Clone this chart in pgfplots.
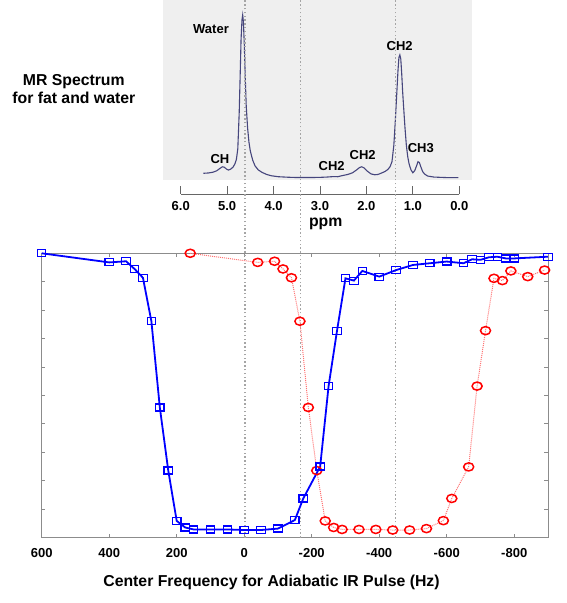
\documentclass[border=0pt]{standalone}
\usepackage{fontspec}
\setmainfont{Liberation Sans}
\usepackage{pgfplots}
\pgfplotsset{compat=1.18}
\definecolor{specline}{RGB}{70,70,125}
\definecolor{boxgray}{RGB}{239,239,239}
\definecolor{dotgray}{RGB}{165,165,165}
\newcommand\ticfont{\fontsize{13}{15}\selectfont\bfseries}
\newcommand\labfont{\fontsize{15.8}{19}\selectfont\bfseries}
\newcommand\peakfont{\fontsize{13}{15}\selectfont\bfseries}
\begin{document}
\begin{tikzpicture}
\useasboundingbox (0,0) rectangle (567pt,603pt);
% ---------------- MR spectrum ----------------
\begin{axis}[
  at={(180.7pt,409pt)}, anchor=south west, scale only axis,
  width=278.6pt, height=194pt,
  x dir=reverse, xmin=0, xmax=6, ymin=-0.098, ymax=1.092,
  axis x line*=bottom, axis y line=none, ytick=\empty,
  xtick={0,1,2,3,4,5,6},
  xticklabels={0.0,1.0,2.0,3.0,4.0,5.0,6.0},
  tick align=inside, major tick length=8pt,
  x axis line style={black!60, line width=0.9pt},
  xtick style={black!60, line width=0.9pt},
  xticklabel style={font=\ticfont, yshift=-3.5pt},
  clip=false,
]
\fill[boxgray] (axis cs:6.375,-0.012) rectangle (axis cs:-0.267,1.092);
\addplot[specline, line width=1.1pt, no marks] coordinates {
(5.51,0.029) (5.40,0.031) (5.30,0.036) (5.22,0.045) (5.15,0.060) (5.10,0.069)
(5.06,0.066) (5.01,0.054) (4.97,0.049) (4.92,0.055) (4.87,0.068) (4.83,0.088)
(4.80,0.115) (4.77,0.180) (4.74,0.400) (4.72,0.620) (4.70,0.850) (4.68,0.970)
(4.665,1.000) (4.65,0.960) (4.63,0.820) (4.61,0.620) (4.59,0.450) (4.56,0.310)
(4.53,0.220) (4.50,0.165) (4.45,0.110) (4.40,0.075) (4.33,0.050) (4.25,0.035)
(4.15,0.022) (4.05,0.014) (3.90,0.008) (3.70,0.005) (3.50,0.003) (3.20,0.003)
(3.00,0.004) (2.85,0.006) (2.75,0.008) (2.70,0.009) (2.62,0.008) (2.50,0.016)
(2.40,0.022) (2.30,0.032) (2.22,0.048) (2.15,0.064) (2.10,0.069) (2.05,0.062)
(1.98,0.042) (1.90,0.025) (1.82,0.020) (1.75,0.022) (1.68,0.030) (1.60,0.040)
(1.54,0.052) (1.49,0.070) (1.45,0.100) (1.41,0.200) (1.38,0.340) (1.35,0.500)
(1.32,0.660) (1.30,0.740) (1.28,0.755) (1.26,0.730) (1.24,0.640) (1.22,0.530)
(1.20,0.440) (1.17,0.310) (1.14,0.200) (1.11,0.130) (1.08,0.085) (1.04,0.050)
(1.00,0.032) (0.96,0.045) (0.92,0.075) (0.89,0.100) (0.86,0.095) (0.83,0.070)
(0.79,0.040) (0.75,0.025) (0.68,0.012) (0.55,0.006) (0.40,0.004) (0.20,0.002)
(0.02,0.002)
};
\node[font=\peakfont] at (axis cs:5.347,0.916) {Water};
\node[font=\peakfont] at (axis cs:5.154,0.117) {CH};
\node[font=\peakfont] at (axis cs:2.748,0.075) {CH2};
\node[font=\peakfont] at (axis cs:2.080,0.141) {CH2};
\node[font=\peakfont] at (axis cs:1.283,0.810) {CH2};
\node[font=\peakfont] at (axis cs:0.829,0.182) {CH3};
\end{axis}
\node[font=\labfont] at (325.7pt,379pt) {ppm};
\node[font=\labfont, align=center, inner sep=0pt] at (73.8pt,514pt)
  {MR Spectrum\\[-1pt]for fat and water};
% ---------------- Inversion profiles ----------------
\begin{axis}[
  at={(41.7pt,65.3pt)}, anchor=south west, scale only axis,
  width=506.3pt, height=284.4pt,
  x dir=reverse, xmin=-900, xmax=600, ymin=0, ymax=1,
  xtick={600,400,200,0,-200,-400,-600,-800},
  xticklabels={600,400,200,0,-200,-400,-600,-800},
  ytick={0,0.1,0.2,0.3,0.4,0.5,0.6,0.7,0.8,0.9,1.0},
  yticklabels={},
  tick align=inside, major tick length=3.5pt,
  axis line style={black!45, line width=0.9pt},
  tick style={black!45, line width=0.9pt},
  xticklabel style={font=\ticfont, yshift=-7pt},
  clip=false,
]
\draw[dotgray, line width=1.6pt, dash pattern=on 1.5pt off 2.3pt] (axis cs:-3,0) -- (axis cs:-3,1.89);
\draw[dotgray, line width=1.6pt, dash pattern=on 1.5pt off 2.3pt] (axis cs:-167,0) -- (axis cs:-167,1.89);
\draw[dotgray, line width=1.6pt, dash pattern=on 1.5pt off 2.3pt] (axis cs:-448,0) -- (axis cs:-448,1.89);
\addplot[red!55, line width=1pt, densely dotted, mark=o, mark size=4.5pt,
  mark options={solid, red, line width=1.5pt, xscale=1.12, yscale=0.9}] coordinates {
(160,1.000) (-40,0.968) (-90,0.972) (-115,0.945) (-140,0.914) (-165,0.761)
(-190,0.458) (-215,0.236) (-240,0.059) (-265,0.036) (-290,0.029) (-340,0.029)
(-390,0.029) (-440,0.027) (-490,0.027) (-540,0.032) (-590,0.060) (-615,0.138)
(-665,0.249) (-690,0.533) (-715,0.728) (-740,0.912) (-765,0.904) (-790,0.938)
(-840,0.918) (-890,0.941)
};
\addplot[blue, line width=1.8pt, mark=square, mark size=3.5pt,
  mark options={solid, line width=1.2pt, xscale=1.2}] coordinates {
(600,1.000) (400,0.968) (350,0.972) (325,0.945) (300,0.914) (275,0.761)
(250,0.458) (225,0.236) (200,0.059) (175,0.036) (150,0.029) (100,0.029)
(50,0.029) (0,0.027) (-50,0.027) (-100,0.032) (-150,0.062) (-175,0.138)
(-225,0.250) (-250,0.533) (-275,0.728) (-300,0.912) (-325,0.904) (-350,0.938)
(-400,0.918) (-450,0.941) (-500,0.959) (-550,0.965) (-600,0.971) (-650,0.965)
(-675,0.979) (-700,0.977) (-725,0.986) (-750,0.988) (-775,0.982) (-800,0.982)
(-900,0.988)
};
\end{axis}
\node[font=\labfont] at (271.5pt,20.5pt) {Center Frequency for Adiabatic IR Pulse (Hz)};
\end{tikzpicture}
\end{document}
